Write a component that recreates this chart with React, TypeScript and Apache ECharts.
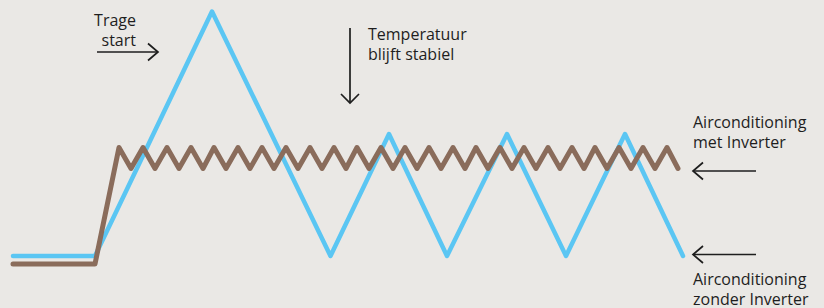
import React, { useEffect, useRef } from "react";
import * as echarts from "echarts";

// Horizontal position (time) and level (temperature)
const zonderTime = [13, 95, 212, 330.5, 389, 447, 507, 566, 625, 683];
const zonderLevel = [52, 52, 296.5, 52, 174, 52, 174, 52, 174, 52];

const metTime = [
  13, 95, 119, 131, 143, 155, 167, 179, 191, 203, 214, 226, 238, 250, 262, 274, 286, 298,
  310, 322, 334, 346, 357, 369, 381, 393, 405, 417, 429, 441, 453, 465, 476, 488, 500, 512,
  524, 536, 548, 560, 572, 584, 595, 607, 619, 631, 643, 655, 667, 678,
];
const metLevel = [
  44, 44, 160.5, 139.5, 160.5, 139.5, 160.5, 139.5, 160.5, 139.5, 160.5, 139.5, 160.5, 139.5,
  160.5, 139.5, 160.5, 139.5, 160.5, 139.5, 160.5, 139.5, 160.5, 139.5, 160.5, 139.5, 160.5,
  139.5, 160.5, 139.5, 160.5, 139.5, 160.5, 139.5, 160.5, 139.5, 160.5, 139.5, 160.5, 139.5,
  160.5, 139.5, 160.5, 139.5, 160.5, 139.5, 160.5, 139.5, 160.5, 139.5,
];

const labelTrage = ["Trage", "start"];
const labelStabiel = ["Temperatuur", "blijft stabiel"];
const labelMet = ["Airconditioning", "met Inverter"];
const labelZonder = ["Airconditioning", "zonder Inverter"];

const BLUE = "#5bc6f3";
const BROWN = "#8a6c5b";
const INK = "#1e1e1e";
const FONT = "'Open Sans', 'Noto Sans', sans-serif";

function txt(lines: string[], x: number, y: number, align: string) {
  return {
    type: "text",
    x,
    y,
    style: {
      text: lines.join("\n"),
      fill: INK,
      font: `16px ${FONT}`,
      lineHeight: 20,
      align,
      verticalAlign: "middle",
    },
  };
}

function seg(x1: number, y1: number, x2: number, y2: number) {
  return {
    type: "line",
    shape: { x1, y1, x2, y2 },
    style: { stroke: INK, lineWidth: 1.7 },
  };
}

function chevron(points: number[][]) {
  return {
    type: "polyline",
    shape: { points },
    style: { stroke: INK, lineWidth: 1.7, fill: null, lineJoin: "miter" },
  };
}

export default function App() {
  const ref = useRef<HTMLDivElement>(null);
  useEffect(() => {
    document.body.style.margin = "0";
    const chart = echarts.init(ref.current!, null, { renderer: "svg" });
    chart.setOption({
      animation: false,
      backgroundColor: "#eae8e5",
      grid: { left: 0, right: 0, top: 0, bottom: 0 },
      xAxis: { type: "value", min: 0, max: 824, show: false },
      yAxis: { type: "value", min: 0, max: 308, show: false },
      series: [
        {
          name: "Airconditioning zonder Inverter",
          type: "line",
          data: zonderTime.map((t, i) => [t, zonderLevel[i]]),
          showSymbol: false,
          lineStyle: { color: BLUE, width: 4.5, cap: "round", join: "round" },
          z: 2,
        },
        {
          name: "Airconditioning met Inverter",
          type: "line",
          data: metTime.map((t, i) => [t, metLevel[i]]),
          showSymbol: false,
          lineStyle: { color: BROWN, width: 5, cap: "round", join: "round" },
          z: 3,
        },
      ],
      graphic: [
        txt(labelTrage, 136, 30, "right"),
        txt(labelStabiel, 368, 43.75, "left"),
        txt(labelMet, 693, 132, "left"),
        txt(labelZonder, 693, 288.5, "left"),
        seg(97, 52, 158, 52),
        chevron([[148, 43.5], [158, 52], [148, 60.5]]),
        seg(350, 28, 350, 103),
        chevron([[341, 94], [350, 103], [359, 94]]),
        seg(693, 171, 756, 171),
        chevron([[703, 162.5], [693, 171], [703, 179.5]]),
        seg(693, 254.5, 756, 254.5),
        chevron([[703, 246], [693, 254.5], [703, 263]]),
      ],
    });
    return () => chart.dispose();
  }, []);
  return <div ref={ref} style={{ width: 824, height: 308 }} />;
}
